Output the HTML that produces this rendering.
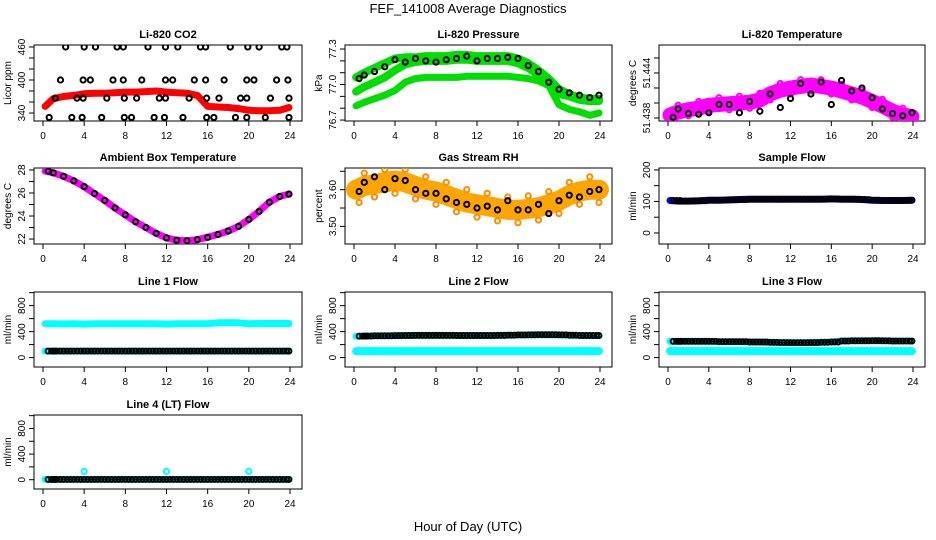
<!DOCTYPE html>
<html><head><meta charset="utf-8"><style>
html,body{margin:0;padding:0;background:#fff}
svg{display:block}
text{font-family:"Liberation Sans",Arial,sans-serif;fill:#000}
.t{font-size:11px;font-weight:bold}
.tk{font-size:10px}
</style></head><body>
<svg id="c" width="936" height="540" viewBox="0 0 936 540">
<text x="468" y="13" text-anchor="middle" font-size="13">FEF_141008  Average Diagnostics</text>
<text x="468" y="531" text-anchor="middle" font-size="13">Hour of Day (UTC)</text>
</svg>
<script>
// ---- data ----
const hours = [0,1,2,3,4,5,6,7,8,9,10,11,12,13,14,15,16,17,18,19,20,21,22,23,24];
const co2Band = [352,366,370,372,375,376,376,377,378,378,379,380,378,377,376,372,352,351,350,348,345,344,344,345,350];
const co2Hi = [2.2,4.0,5.1,7.2,7.8,10.2,11.9,13.1,15.3,15.8,18.2,19.9,21.0,23.2,23.7];
const co2Mid = [1.7,3.9,4.6,6.8,7.8,9.6,11.9,12.6,14.7,15.8,17.6,19.8,20.5,22.7,23.8];
const co2Low = [1.2,3.3,3.9,6.2,7.9,9.1,11.3,11.9,14.2,15.9,17.1,19.2,19.8,22.1,23.9];
const co2Min = [0.6,2.8,3.8,5.7,7.9,8.6,10.8,11.8,13.6,15.9,16.6,18.7,19.8,21.6,23.9];
const presUpper = [77.06,77.1,77.14,77.18,77.22,77.23,77.23,77.24,77.24,77.24,77.25,77.25,77.24,77.24,77.24,77.24,77.22,77.18,77.12,77.05,76.96,76.92,76.89,76.88,76.88];
const presMid = [76.94,76.98,77.02,77.06,77.12,77.17,77.19,77.2,77.2,77.2,77.21,77.21,77.2,77.2,77.2,77.2,77.18,77.14,77.08,77.02,76.92,76.9,76.87,76.86,76.86];
const presLow = [76.82,76.85,76.88,76.91,76.95,77.02,77.05,77.06,77.06,77.06,77.06,77.07,77.07,77.07,77.07,77.07,77.06,77.05,77.03,76.99,76.83,76.79,76.77,76.74,76.76];
const presBlack = [77.05,77.08,77.11,77.15,77.21,77.19,77.22,77.2,77.19,77.21,77.22,77.24,77.2,77.22,77.22,77.23,77.22,77.16,77.11,77.02,76.96,76.93,76.91,76.89,76.91];
const tempBand = [51.4384,51.4388,51.4391,51.4393,51.4397,51.4398,51.4399,51.44,51.4401,51.4404,51.4412,51.4417,51.442,51.4422,51.4424,51.4422,51.442,51.4416,51.4412,51.4408,51.4402,51.4396,51.4389,51.4384,51.4382];
const tempBlack = [51.4381,51.4392,51.4386,51.4385,51.4387,51.4398,51.4398,51.4387,51.4402,51.4389,51.4412,51.4394,51.4406,51.4426,51.4412,51.4428,51.4398,51.443,51.4416,51.442,51.4407,51.4392,51.4386,51.4383,51.4387];
const ambTemp = [27.9,27.75,27.45,27.05,26.55,25.95,25.35,24.7,24.1,23.5,23.0,22.5,22.1,21.9,21.85,21.95,22.15,22.4,22.7,23.1,23.7,24.4,25.2,25.7,25.9];
const rhBand = [3.6,3.61,3.615,3.62,3.625,3.62,3.61,3.6,3.595,3.585,3.575,3.565,3.56,3.555,3.55,3.545,3.545,3.548,3.552,3.56,3.57,3.585,3.595,3.6,3.6];
const rhBlack = [3.595,3.62,3.635,3.6,3.63,3.625,3.6,3.59,3.59,3.575,3.565,3.56,3.55,3.555,3.545,3.57,3.545,3.545,3.56,3.535,3.57,3.585,3.58,3.595,3.6];
const sampleFlow = [103,101,101,102,104,104,105,106,107,107,107,107,107,107,107,107,108,107,107,106,104,103,103,103,104];
const line1Cyan = [520,520,518,520,515,522,522,520,520,522,522,522,515,520,522,522,522,535,535,535,520,525,525,525,525];
const line1Black = [100,100,100,100,100,100,100,100,100,100,100,100,100,100,100,100,100,100,100,100,100,100,100,100,100];
const line2Black = [330,332,335,335,338,340,342,342,342,342,340,340,340,340,342,345,348,350,352,352,350,345,340,340,340];
const line2Low = [100,100,100,100,100,100,100,100,100,100,100,100,100,100,100,100,100,100,100,100,100,100,100,100,100];
const line3Black = [250,250,250,250,250,245,245,245,240,240,235,232,230,230,232,235,240,255,258,258,260,258,255,255,255];
const line3Low = [100,100,100,100,100,100,100,100,100,100,100,100,100,100,100,100,100,100,100,100,100,100,100,100,100];
const line4Black = [5,5,5,5,5,5,5,5,5,5,5,5,5,5,5,5,5,5,5,5,5,5,5,5,5];
const line4SpikeHours = [4,12,20];
const line4SpikeVals = [130,130,130];
const xTicks = [0,4,8,12,16,20,24];

const NS = "http://www.w3.org/2000/svg";
const svg = document.getElementById('c');
const cols = [[34,302],[345,612],[659,925]];
const rows = [[45,121],[168,244],[292,367],[415,489]];
function el(tag, attrs, parent){
  const e = document.createElementNS(NS, tag);
  for (const k in attrs) e.setAttribute(k, attrs[k]);
  (parent||svg).appendChild(e); return e;
}
function panel(col,row,title,ylab,ylim,ticks,labels,name){
  const [l,r]=cols[col],[t,b]=rows[row];
  const g=el('g',{});
  
  
  const xs=h=>l+9+h*(r-l-21)/24;
  const ys=v=>b-(v-ylim[0])/(ylim[1]-ylim[0])*(b-t);
  const box=el('rect',{x:l,y:t,width:r-l,height:b-t,fill:'none',stroke:'#000','stroke-width':1},g);
  
  
  const tt=el('text',{x:(l+r)/2,y:t-7,'text-anchor':'middle',class:'t'},g); tt.textContent=title;
  
  
  xTicks.forEach(h=>{
    el('line',{x1:xs(h),x2:xs(h),y1:b,y2:b+5,stroke:'#000'},g);
    const tx=el('text',{x:xs(h),y:b+18,'text-anchor':'middle',class:'tk'},g); tx.textContent=h;
    
    
  });
  ticks.forEach(v=>{
    el('line',{x1:l,x2:l-5,y1:ys(v),y2:ys(v),stroke:'#000'},g);
  });
  labels.forEach(v=>{
    const y=ys(v);
    const tx=el('text',{x:l-9,y:y,'text-anchor':'middle',class:'tk',transform:`rotate(-90 ${l-9} ${y})`},g);
    tx.textContent=v;
    
    
  });
  const yl=el('text',{x:l-23,y:(t+b)/2,'text-anchor':'middle',class:'tk',transform:`rotate(-90 ${l-23} ${(t+b)/2})`},g);
  yl.textContent=ylab;
  
  
  const clip='clip'+col+row;
  const cp=el('clipPath',{id:clip},g); el('rect',{x:l,y:t,width:r-l,height:b-t},cp);
  const inner=el('g',{'clip-path':`url(#${clip})`},g);
  return {xs,ys,g:inner};
}
function band(p,hs,vals,color,w,name){
  const d=hs.map((h,i)=>(i?'L':'M')+p.xs(h).toFixed(1)+','+p.ys(vals[i]).toFixed(1)).join(' ');
  const e=el('path',{d:d,fill:'none',stroke:color,'stroke-width':w,'stroke-linejoin':'round','stroke-linecap':'round'},p.g);
  
  
}
function pts(p,hs,vals,color,name,r){
  hs.forEach((h,i)=>{
    const c=el('circle',{cx:p.xs(h),cy:p.ys(vals[i]),r:r||2.6,fill:'none',stroke:color,'stroke-width':2},p.g);
    
    
  });
}
function ptsDense(p,hs,vals,color,name){
  for(let i=0;i<hs.length;i++){
    [0,1/3,2/3].forEach(o=>{
      const h=hs[i]+o; if(h>24) return;
      const c=el('circle',{cx:p.xs(h),cy:p.ys(vals[i]),r:2.5,fill:'none',stroke:color,'stroke-width':1.9},p.g);
      
      
    });
  }
}
const H = hours.slice(); H[0]=0.2; H[24]=23.9;
const Hb = hours.map(h=>Math.min(23.9,Math.max(0.5,h)));

// CO2
let p=panel(0,0,'Li-820 CO2','Licor ppm',[325.5,463.6],[340,360,380,400,420,440,460],[340,400,460],'co2');
band(p,H,co2Band,'#ff0000',7,'co2-series');
pts(p,co2Hi,co2Hi.map(()=>460),'#000','co2-point');
pts(p,co2Mid,co2Mid.map(()=>400),'#000','co2-point');
pts(p,co2Low,co2Low.map(()=>367),'#000','co2-point');
pts(p,co2Min,co2Min.map(()=>332),'#000','co2-point');

// Pressure
p=panel(1,0,'Li-820 Pressure','kPa',[76.692,77.334],[76.7,76.8,76.9,77.0,77.1,77.2,77.3],['76.7','77.0','77.3'],'pressure');
band(p,H,presLow,'#00dd00',7,'pressure-low-series');
band(p,H,presMid,'#00dd00',8,'pressure-mid-series');
band(p,H,presUpper,'#00dd00',8,'pressure-upper-series');
pts(p,Hb,presBlack,'#000','pressure-point');

// Li temperature
p=panel(2,0,'Li-820 Temperature','degrees C',[51.4376,51.44773],[51.438,51.44,51.442,51.444,51.446],['51.438','51.444'],'li-temp');
band(p,H,tempBand,'#ff00ff',15,'li-temp-series');
pts(p,Hb,tempBand.map((v,i)=>i%2?v+0.0009:v-0.0008),'#ff00ff','li-temp-point');
pts(p,Hb,tempBlack,'#000','li-temp-black-point');

// Ambient
p=panel(0,1,'Ambient Box Temperature','degrees C',[21.57,28.17],[22,23,24,25,26,27,28],[22,24,26,28],'ambient');
band(p,H,ambTemp,'#ff00ff',7,'ambient-series');
pts(p,Hb,ambTemp,'#000','ambient-point');

// RH
p=panel(1,1,'Gas Stream RH','percent',[3.452,3.659],[3.5,3.55,3.6,3.65],['3.50','3.60'],'rh');
band(p,H,rhBand,'#ffa500',20,'rh-series');
pts(p,Hb,rhBand.map((v,i)=>i%2?v+0.035:v-0.035),'#ff8c00','rh-point');
pts(p,Hb,rhBlack,'#000','rh-black-point');

// Sample flow
p=panel(2,1,'Sample Flow','ml/min',[-35,206],[0,50,100,150,200],[0,100,200],'sample-flow');
band(p,H,sampleFlow,'#0000ff',7,'sample-flow-series');
ptsDense(p,Hb,sampleFlow,'#000','sample-flow-point');

const fl=[-145,1010], ft=[0,200,400,600,800,1000], fl2=[0,400,800];
p=panel(0,2,'Line 1 Flow','ml/min',fl,ft,fl2,'line1');
band(p,H,line1Cyan,'#00ffff',7,'line1-high-series');
band(p,H,line1Black,'#00ffff',7,'line1-low-series');
ptsDense(p,Hb,line1Black,'#000','line1-point');

p=panel(1,2,'Line 2 Flow','ml/min',fl,ft,fl2,'line2');
band(p,H,line2Low,'#00ffff',8,'line2-low-series');
band(p,H,line2Black,'#00ffff',7,'line2-high-series');
ptsDense(p,Hb,line2Black,'#000','line2-point');

p=panel(2,2,'Line 3 Flow','ml/min',fl,ft,fl2,'line3');
band(p,H,line3Low,'#00ffff',8,'line3-low-series');
band(p,H,line3Black,'#00ffff',7,'line3-high-series');
ptsDense(p,Hb,line3Black,'#000','line3-point');

p=panel(0,3,'Line 4 (LT) Flow','ml/min',fl,ft,fl2,'line4');
band(p,H,line4Black,'#00ffff',7,'line4-series');
ptsDense(p,Hb,line4Black,'#000','line4-point');
pts(p,line4SpikeHours,line4SpikeVals,'#00ffff','line4-spike-point');
</script>
</body></html>
